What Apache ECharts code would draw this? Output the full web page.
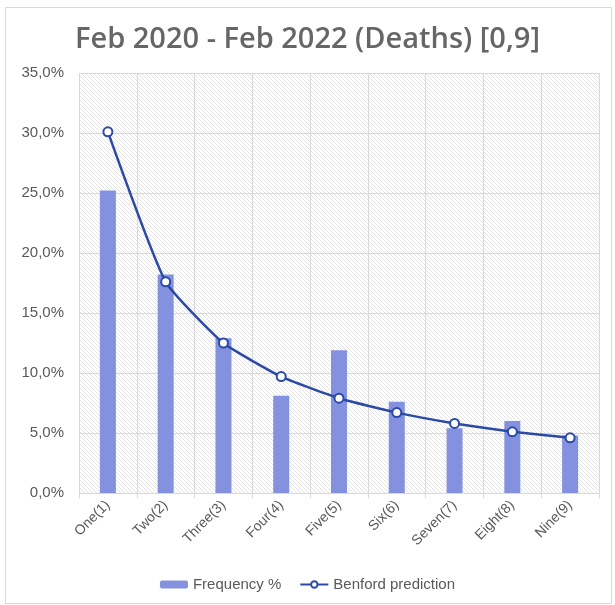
<!DOCTYPE html>
<html>
<head>
<meta charset="utf-8">
<script src="https://cdn.jsdelivr.net/npm/echarts@6/dist/echarts.min.js"></script>
<style>
html, body { margin: 0; padding: 0; background: #fff; }
#main { width: 615px; height: 605px; }
</style>
</head>
<body>
<div id="main"></div>
<script>
var categories = ['One(1)', 'Two(2)', 'Three(3)', 'Four(4)', 'Five(5)', 'Six(6)', 'Seven(7)', 'Eight(8)', 'Nine(9)'];
var frequency = [25.2, 18.2, 12.9, 8.1, 11.9, 7.6, 5.4, 6.0, 4.8];
var benford = [30.1, 17.6, 12.5, 9.7, 7.9, 6.7, 5.8, 5.1, 4.6];

// hatch pattern for the plot background
var hatch = document.createElement('canvas');
hatch.width = 4;
hatch.height = 4;
var ctx = hatch.getContext('2d');
ctx.fillStyle = '#ffffff';
ctx.fillRect(0, 0, 4, 4);
ctx.strokeStyle = '#e4e4e4';
ctx.lineWidth = 1;
ctx.beginPath();
ctx.moveTo(0, 0);
ctx.lineTo(4, 4);
ctx.stroke();

var myChart = echarts.init(document.getElementById('main'));

option = {
	backgroundColor: '#fff',
	textStyle: { fontFamily: '"Liberation Sans", Arial, sans-serif' },
	title: {
		text: 'Feb 2020 - Feb 2022 (Deaths) [0,9]',
		left: 'center',
		top: 20,
		textStyle: {
			fontFamily: '"Open Sans", sans-serif',
			fontSize: 29,
			fontWeight: 600,
			color: '#666666'
		}
	},
	graphic: [{
		type: 'rect',
		shape: { x: 5.5, y: 7.5, width: 606, height: 596 },
		style: { fill: 'none', stroke: '#d9d9d9', lineWidth: 1 },
		z: -1
	}],
	legend: {
		bottom: 8,
		left: 'center',
		itemGap: 18,
		itemWidth: 28,
		itemHeight: 8,
		textStyle: { fontSize: 15, color: '#595959' },
		data: ['Frequency %', 'Benford prediction']
	},
	grid: {
		left: 79,
		right: 16,
		top: 73,
		bottom: 112,
		show: true,
		borderWidth: 0,
		backgroundColor: { image: hatch, repeat: 'repeat' }
	},
	xAxis: {
		type: 'category',
		data: categories,
		axisLine: { lineStyle: { color: '#d9d9d9' } },
		axisTick: { show: true, length: 5, lineStyle: { color: '#d9d9d9' } },
		splitLine: { show: true, lineStyle: { color: '#d9d9d9' } },
		axisLabel: { rotate: 45, fontSize: 14, color: '#595959', margin: 10 }
	},
	yAxis: {
		type: 'value',
		min: 0,
		max: 35,
		interval: 5,
		axisLine: { show: false },
		axisTick: { show: false },
		splitLine: { lineStyle: { color: '#d9d9d9' } },
		axisLabel: {
			fontSize: 15,
			color: '#595959',
			margin: 15,
			formatter: function (v) { return v.toFixed(1).replace('.', ',') + '%'; }
		}
	},
	series: [{
		name: 'Frequency %',
		type: 'bar',
		barWidth: 16,
		data: frequency,
		itemStyle: { color: '#8391df' }
	}, {
		name: 'Benford prediction',
		type: 'line',
		smooth: 0.15,
		data: benford,
		symbol: 'circle',
		symbolSize: 9,
		lineStyle: { color: '#2b4aa8', width: 2.5 },
		itemStyle: { color: '#ffffff', borderColor: '#2b4aa8', borderWidth: 2 }
	}]
};
myChart.setOption(option);
</script>
</body>
</html>
